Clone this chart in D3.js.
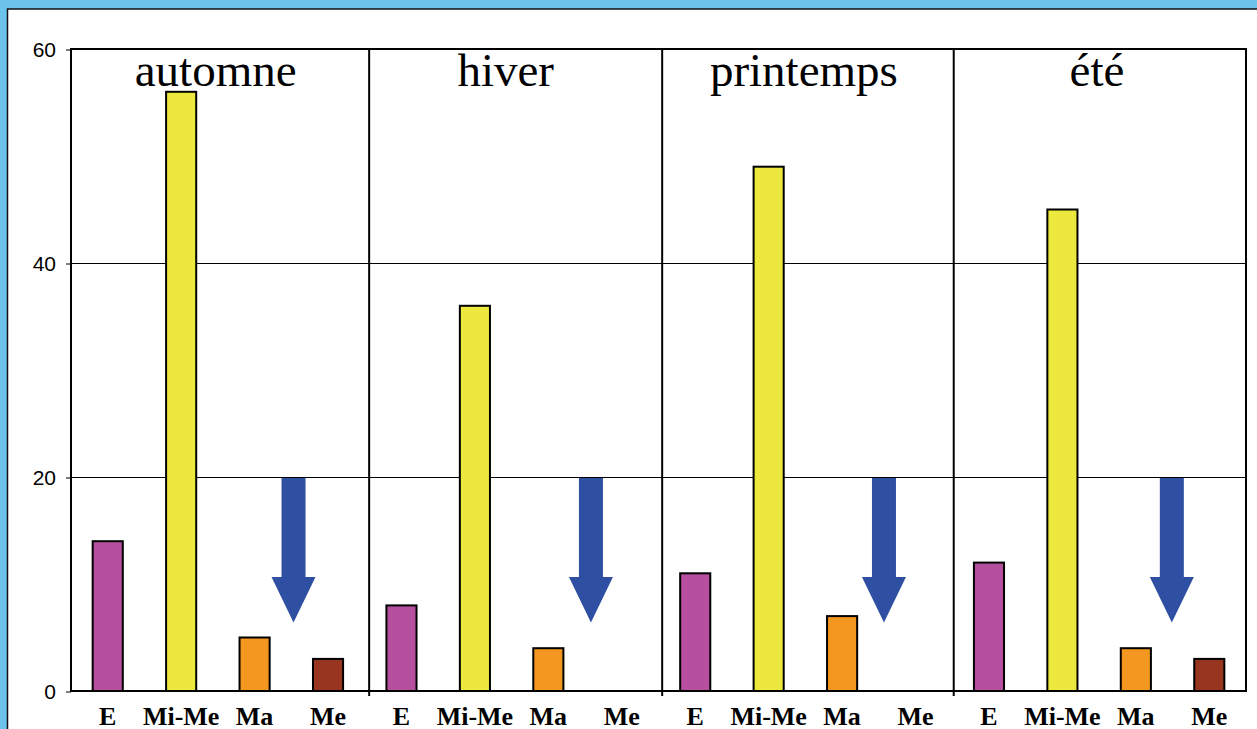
<!DOCTYPE html>
<html>
<head>
<meta charset="utf-8">
<script src="https://cdn.jsdelivr.net/npm/d3@7"></script>
<style>
  html, body { margin: 0; padding: 0; background: #fff; }
  svg { display: block; }
</style>
</head>
<body>
<svg id="chart" width="1257" height="729"></svg>
<script>
// ---- data ----
const seasons = ["automne", "hiver", "printemps", "été"];
const groups = ["E", "Mi-Me", "Ma", "Me"];
const groupColors = ["#B54F9E", "#EDE83E", "#F39720", "#973520"];
const valuesAutomne = [14, 56, 5, 3];
const valuesHiver = [8, 36, 4, 0];
const valuesPrintemps = [11, 49, 7, 0];
const valuesEte = [12, 45, 4, 3];
const yTicks = [0, 20, 40, 60];
// annotation positions, in category-index units
const arrowPos = [2.53, 6.58, 10.57, 14.49];
const arrowTop = 20, arrowHeadBase = 10.65, arrowTip = 6.4;
const separatorPos = [3.56, 7.55, 11.52];
const titlePos = [1.47, 5.42, 9.48, 13.47];

const seasonValues = [valuesAutomne, valuesHiver, valuesPrintemps, valuesEte];
const rows = [];
seasons.forEach((s, si) => groups.forEach((g, gi) => {
  rows.push({ id: si + "-" + g, season: s, group: g, gi: gi, value: seasonValues[si][gi] });
}));

// ---- layout ----
const W = 1257, H = 729;
const mLeft = 71, mRight = 1246, mTop = 49, mBottom = 691;

const svg = d3.select("#chart");

// outer frame
svg.append("rect").attr("x", 0).attr("y", 0).attr("width", W).attr("height", H).attr("fill", "#6BC3EC");
svg.append("rect").attr("x", 7.5).attr("y", 9).attr("width", W).attr("height", H)
  .attr("fill", "#fff").attr("stroke", "#111").attr("stroke-width", 1.5);

const x = d3.scaleBand().domain(rows.map(d => d.id)).range([mLeft, mRight]).padding(0);
const xi = d3.scaleLinear().domain([-0.5, rows.length - 0.5]).range([mLeft, mRight]);
const y = d3.scaleLinear().domain([0, 60]).range([mBottom, mTop]);

// gridlines
svg.append("g").selectAll("line").data(yTicks.filter(t => t > 0 && t < 60)).join("line")
  .attr("x1", mLeft).attr("x2", mRight)
  .attr("y1", d => y(d) + 0.5).attr("y2", d => y(d) + 0.5)
  .attr("stroke", "#000").attr("stroke-width", 1);

// y axis
const yAxis = svg.append("g").attr("transform", `translate(${mLeft},0.5)`)
  .call(d3.axisLeft(y).tickValues(yTicks).tickSize(5).tickPadding(10));
yAxis.attr("font-size", 21).attr("font-family", "Liberation Sans, Arial, sans-serif");
yAxis.select(".domain").remove();
yAxis.selectAll(".tick line").attr("stroke", "#000").attr("stroke-width", 1);
yAxis.selectAll(".tick text").attr("fill", "#000");

// separators
svg.append("g").selectAll("line").data(separatorPos).join("line")
  .attr("x1", d => xi(d)).attr("x2", d => xi(d))
  .attr("y1", mTop).attr("y2", mBottom + 5)
  .attr("stroke", "#000").attr("stroke-width", 2);

// bars
const bw = x.bandwidth() * 0.41;
svg.append("g").selectAll("rect").data(rows.filter(d => d.value > 0)).join("rect")
  .attr("x", d => x(d.id) + x.bandwidth() / 2 - bw / 2)
  .attr("width", bw)
  .attr("y", d => y(d.value))
  .attr("height", d => y(0) - y(d.value))
  .attr("fill", d => groupColors[d.gi])
  .attr("stroke", "#000").attr("stroke-width", 2);

// plot frame
svg.append("rect").attr("x", mLeft).attr("y", mTop).attr("width", mRight - mLeft).attr("height", mBottom - mTop)
  .attr("fill", "none").attr("stroke", "#000").attr("stroke-width", 2);

// arrows
const shaftW = 24, headW = 44;
svg.append("g").selectAll("path").data(arrowPos).join("path")
  .attr("d", d => {
    const cx = xi(d);
    const yt = y(arrowTop) + 1, yh = y(arrowHeadBase), yp = y(arrowTip);
    return `M${cx - shaftW / 2},${yt} L${cx + shaftW / 2},${yt} L${cx + shaftW / 2},${yh} L${cx + headW / 2},${yh} L${cx},${yp} L${cx - headW / 2},${yh} L${cx - shaftW / 2},${yh} Z`;
  })
  .attr("fill", "#2F4FA2");

// season titles
svg.append("g").selectAll("text").data(seasons).join("text")
  .attr("x", (d, i) => xi(titlePos[i]))
  .attr("y", 86)
  .attr("text-anchor", "middle")
  .attr("font-family", "Liberation Serif, Times New Roman, serif")
  .attr("font-size", 47)
  .attr("fill", "#000")
  .text(d => d);

// category labels
svg.append("g").selectAll("text").data(rows).join("text")
  .attr("x", d => x(d.id) + x.bandwidth() / 2)
  .attr("y", 725)
  .attr("text-anchor", "middle")
  .attr("font-family", "Liberation Serif, Times New Roman, serif")
  .attr("font-weight", "bold")
  .attr("font-size", 26)
  .attr("fill", "#000")
  .text(d => d.group);
</script>
</body>
</html>
